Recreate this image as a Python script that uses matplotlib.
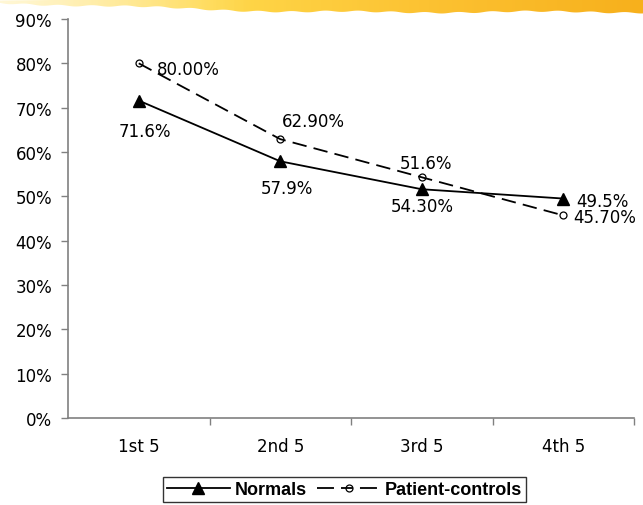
import numpy as np
import matplotlib
matplotlib.use("Agg")
import matplotlib.pyplot as plt
from matplotlib.colors import LinearSegmentedColormap
from matplotlib.lines import Line2D

categories = ["1st 5", "2nd 5", "3rd 5", "4th 5"]
normals = [71.6, 57.9, 51.6, 49.5]
patients = [80.0, 62.9, 54.3, 45.7]
normals_labels = ["71.6%", "57.9%", "51.6%", "49.5%"]
patients_labels = ["80.00%", "62.90%", "54.30%", "45.70%"]
y_ticks = list(range(0, 91, 10))

plt.rcParams["font.family"] = ["DejaVu Sans"]

W, H = 643, 506
fig = plt.figure(figsize=(W / 100, H / 100), dpi=100)
fig.patch.set_facecolor("white")

# decorative brush stroke along the top edge
bh = 16
band = fig.add_axes([0.0, 1 - bh / H, 1.0, bh / H])
band.set_axis_off()
cols = np.arange(W)
rows = np.arange(bh)[:, None]
edge = 4 + 9 * np.clip(cols / 300.0, 0, 1) + 0.8 * np.sin(cols / 31.0) + 0.7 * np.sin(cols / 5.3)
top = 1.5 * np.clip(1 - cols / 150.0, 0, 1)
mask = np.clip(edge[None, :] - rows, 0, 1) * np.clip(rows - top[None, :] + 1, 0, 1)
strength = 0.35 + 0.65 * np.clip(cols / 250.0, 0, 1)
cmap = LinearSegmentedColormap.from_list("stroke", ["#ffe98a", "#ffd84a", "#fcc232", "#f7b01c"])
rgba = cmap(np.broadcast_to(cols / (W - 1), (bh, W))).copy()
rgba[..., 3] = mask * strength[None, :]
band.imshow(rgba, aspect="auto", extent=[0, 1, 0, 1], origin="upper", interpolation="bilinear")

ax = fig.add_axes([68 / W, 87 / H, 566 / W, 399 / H])
x = np.arange(len(categories))

line_lw = 1.3
dash_style = (0, (8, 4))
ax.plot(x, normals, color="black", lw=line_lw, marker="^", ms=9,
        mfc="black", mec="black", zorder=3)
ax.plot(x, patients, color="black", lw=line_lw, ls=dash_style, marker="o", ms=5,
        mfc="none", mec="black", mew=0.9, zorder=3)

lab_kw = dict(textcoords="offset pixels", fontsize=12, color="black", va="center")
n_off = [(6, -30, "center"), (7, -27, "center"), (4, 26, "center"), (13, -2, "left")]
p_off = [(18, -6, "left"), (2, 18, "left"), (1, -29, "center"), (10, -2, "left")]
for i in range(len(categories)):
    dx, dy, ha = n_off[i]
    ax.annotate(normals_labels[i], (x[i], normals[i]), xytext=(dx, dy), ha=ha, **lab_kw)
    dx, dy, ha = p_off[i]
    ax.annotate(patients_labels[i], (x[i], patients[i]), xytext=(dx, dy), ha=ha, **lab_kw)

ax.set_xlim(-0.5, len(categories) - 0.5)
ax.set_ylim(0, 90)
ax.set_yticks(y_ticks)
ax.set_yticklabels([f"{v}%" for v in y_ticks])
ax.set_xticks(x)
ax.set_xticklabels(categories)
ax.set_xticks(np.arange(len(categories)) + 0.5, minor=True)

axis_col = "#808080"
for s in ["top", "right"]:
    ax.spines[s].set_visible(False)
for s in ["left", "bottom"]:
    ax.spines[s].set_color(axis_col)
    ax.spines[s].set_linewidth(1.2)

ax.tick_params(axis="y", length=5, width=1, color=axis_col, labelsize=12, pad=6.5)
ax.tick_params(axis="x", which="major", length=0, labelsize=12, pad=14)
ax.tick_params(axis="x", which="minor", length=5, width=1, color=axis_col)

# legend handles: solid line with triangle, dashed line with open circle
h_norm = Line2D([], [], color="black", lw=line_lw, marker="^", ms=9, mfc="black", mec="black")
h_pat = Line2D([], [], color="black", lw=line_lw, ls=(0, (9.4, 3.9, 6.6, 3.9, 9.4, 10)),
               marker="o", ms=5, mfc="none", mec="black", mew=0.9)
leg = fig.legend([h_norm, h_pat], ["Normals", "Patient-controls"],
                 loc="center", bbox_to_anchor=(344.5 / W, 1 - 490.5 / H), ncol=2,
                 frameon=True, fancybox=False, edgecolor="black", handlelength=3.5,
                 columnspacing=0.6, handletextpad=0.25, borderpad=0.2, borderaxespad=0,
                 prop={"family": "Liberation Sans", "weight": "bold", "size": 13})
leg.get_frame().set_linewidth(1.0)

fig.savefig("out.png", dpi=100, facecolor="white")
